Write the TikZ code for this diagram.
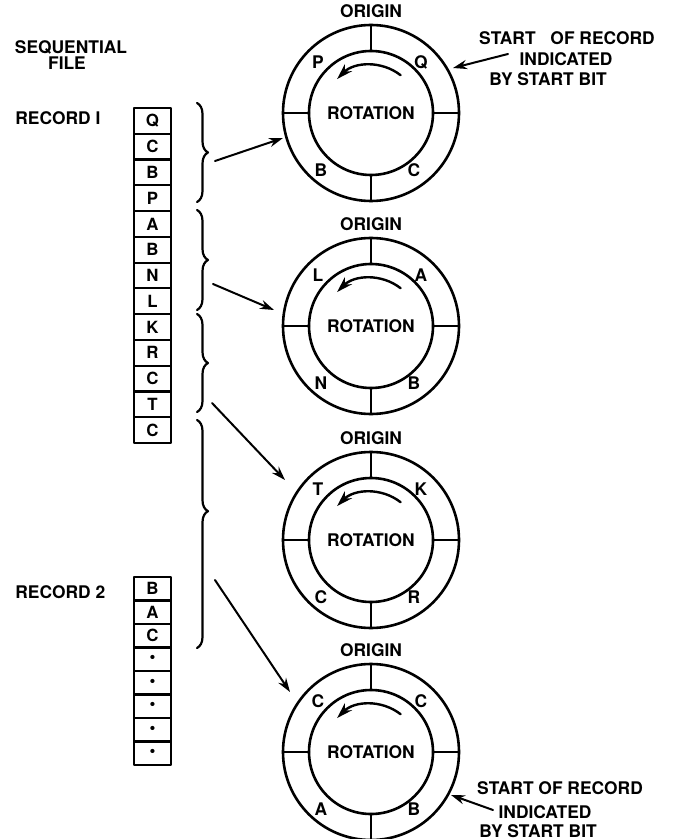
\documentclass[tikz,border=0pt]{standalone}
\usepackage{fontspec}
\setmainfont{TeX Gyre Heros}
\usetikzlibrary{arrows.meta,calc,decorations.pathreplacing}

\begin{document}
\begin{tikzpicture}[
  x=0.5pt,y=-0.5pt,
  line cap=round,
  line join=round,
  >={Stealth[length=7pt,width=4.6pt]},
  lbl/.style={font=\bfseries\fontsize{8.7}{10}\selectfont,inner sep=0pt},
  ring/.style={black,line width=1.3pt},
  spin/.style={black,line width=1.2pt,-{Stealth[length=8pt,width=5pt]}},
  cell/.style={draw=black,line width=1.1pt,minimum width=18.5pt,
    minimum height=12.88pt,inner sep=0pt,
    font=\bfseries\fontsize{8.4}{10}\selectfont},
  feed/.style={black,line width=1pt,->},
  curly/.style={decorate,decoration={brace,amplitude=5.5pt},line width=1.1pt}
]
\path[use as bounding box] (0,0) rectangle (673,839);

% left side: the sequential file
\node[lbl] (seq) at (71,47) {SEQUENTIAL};
\node[lbl] (file) at (67,63) {FILE};
\node[lbl,anchor=west] (rec1) at (15,118) {RECORD I};
\node[lbl,anchor=west] (rec2) at (15,592) {RECORD 2};

\foreach \ch [count=\i] in {Q,C,B,P,A,B,N,L,K,R,C,T,C}
  \node[cell] (fa\i) at (152.5,{108+25.77*(\i-0.5)}) {\ch};
\foreach \ch [count=\i] in {B,A,C,\textbullet,\textbullet,\textbullet,\textbullet,\textbullet}
  \node[cell,minimum height=11.75pt] (fb\i) at (152.5,{577+23.5*(\i-0.5)}) {\ch};

\draw[curly] (197,103) -- (197,202);
\draw[curly] (197,210) -- (197,310);
\draw[curly] (197,314) -- (197,412);
\draw[curly,decoration={aspect=0.4}] (197,420) -- (197,648);

% the four drum positions
\foreach \cy/\n/\pa/\pb/\pc/\pd in
  {113/1/P/Q/C/B, 326/2/L/A/B/N, 540/3/T/K/R/C, 752/4/C/C/B/A}
{
  \coordinate (d\n) at (371,\cy);
  \draw[ring] (d\n) circle[radius=88];
  \draw[ring] (d\n) circle[radius=62];
  \draw[ring] ($(d\n)+(0,-62)$) -- ++(0,-26);
  \draw[ring] ($(d\n)+(0,62)$) -- ++(0,26);
  \draw[ring] ($(d\n)+(-62,0)$) -- ++(-26,0);
  \draw[ring] ($(d\n)+(62,0)$) -- ++(26,0);
  \node[lbl] (o\n) at ($(d\n)+(0,-102)$) {ORIGIN};
  \node[lbl] (r\n) at (d\n) {ROTATION};
  \node[lbl] (p\n) at ($(d\n)+(-53,-51)$) {\pa};
  \node[lbl] (q\n) at ($(d\n)+(50,-51)$) {\pb};
  \node[lbl] (u\n) at ($(d\n)+(43,57)$) {\pc};
  \node[lbl] (v\n) at ($(d\n)+(-50,57)$) {\pd};
  \draw[spin] ($(d\n)+(-52:48)$) arc[start angle=-52,end angle=-135,radius=48];
}

% brace to drum arrows
\coordinate (t1) at (215,161);  \coordinate (h1) at (283,138);
\coordinate (t2) at (213,284);  \coordinate (h2) at (274,310);
\coordinate (t3) at (212,403);  \coordinate (h3) at (285,480);
\coordinate (t4) at (215,580);  \coordinate (h4) at (290,692);
\foreach \k in {1,...,4}
  \draw[feed] (t\k) -- (h\k);

% start of record notes
\node[lbl] (sa) at (567,38) {START\hspace{5pt} OF RECORD};
\node[lbl] (sb) at (566,59) {INDICATED};
\node[lbl] (sc) at (548,79) {BY START BIT};
\coordinate (st) at (508,54);
\coordinate (sh) at (453,68);
\draw[feed] (st) -- (sh);

\node[lbl] (ea) at (560,788) {START OF RECORD};
\node[lbl] (eb) at (545,812) {INDICATED};
\node[lbl] (ec) at (538,831) {BY START BIT};
\coordinate (et) at (493,810);
\coordinate (eh) at (451,795);
\draw[feed] (et) -- (eh);
\end{tikzpicture}
\end{document}
